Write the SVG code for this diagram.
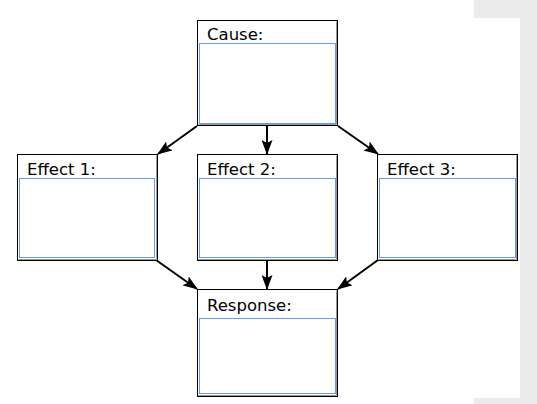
<svg xmlns="http://www.w3.org/2000/svg" width="537" height="404" viewBox="0 0 537 404">
<style>
.outer{fill:#fff;stroke:#000;stroke-width:1}
.shadow{fill:none;stroke:#9a9a9a;stroke-width:1}
.inner{fill:#fff;stroke:#6a9be0;stroke-width:1}
.lbl{font-family:"DejaVu Sans",Verdana,sans-serif;font-size:16.5px;fill:#000}
.conn{stroke:#000;stroke-width:2;fill:none}
</style>
<defs>
<marker id="ah" viewBox="0 0 15 11" refX="14" refY="5.5" markerWidth="15" markerHeight="11" markerUnits="userSpaceOnUse" orient="auto">
<path d="M0,0 L15,5.5 L0,11 L3,5.5 z" fill="#000"/>
</marker>
</defs>
<rect x="0" y="0" width="537" height="404" fill="#fff"/>
<rect x="474" y="0" width="63" height="404" fill="#ebebeb"/>
<rect x="474" y="18" width="46" height="380" fill="#fff"/>

<g id="connectors">
<line class="conn" x1="197" y1="126" x2="158" y2="154" marker-end="url(#ah)"/>
<line class="conn" x1="267" y1="126" x2="267" y2="154" marker-end="url(#ah)"/>
<line class="conn" x1="338" y1="126" x2="378" y2="154" marker-end="url(#ah)"/>
<line class="conn" x1="156" y1="260" x2="197" y2="289" marker-end="url(#ah)"/>
<line class="conn" x1="267" y1="260" x2="267" y2="289" marker-end="url(#ah)"/>
<line class="conn" x1="378" y1="260" x2="338" y2="289" marker-end="url(#ah)"/>
</g>

<g id="cause">
<rect class="outer" x="197.5" y="20.5" width="140" height="105"/>
<path class="shadow" d="M336.5,21.5 V124.5 H198.5"/>
<rect class="inner" x="199.5" y="43.5" width="136" height="80"/>
<text class="lbl" x="207" y="40">Cause:</text>
</g>

<g id="effect1">
<rect class="outer" x="17.5" y="154.5" width="140" height="106"/>
<path class="shadow" d="M156.5,155.5 V259.5 H18.5"/>
<rect class="inner" x="19.5" y="178.5" width="135" height="79"/>
<text class="lbl" x="27" y="175">Effect 1:</text>
</g>

<g id="effect2">
<rect class="outer" x="197.5" y="154.5" width="140" height="106"/>
<path class="shadow" d="M336.5,155.5 V259.5 H198.5"/>
<rect class="inner" x="199.5" y="178.5" width="136" height="79"/>
<text class="lbl" x="207" y="175">Effect 2:</text>
</g>

<g id="effect3">
<rect class="outer" x="377.5" y="154.5" width="140" height="106"/>
<path class="shadow" d="M516.5,155.5 V259.5 H378.5"/>
<rect class="inner" x="379.5" y="178.5" width="136" height="79"/>
<text class="lbl" x="387" y="175">Effect 3:</text>
</g>

<g id="response">
<rect class="outer" x="197.5" y="289.5" width="140" height="107"/>
<path class="shadow" d="M336.5,290.5 V395.5 H198.5"/>
<rect class="inner" x="199.5" y="318.5" width="136" height="75"/>
<text class="lbl" x="207" y="311">Response:</text>
</g>
</svg>
